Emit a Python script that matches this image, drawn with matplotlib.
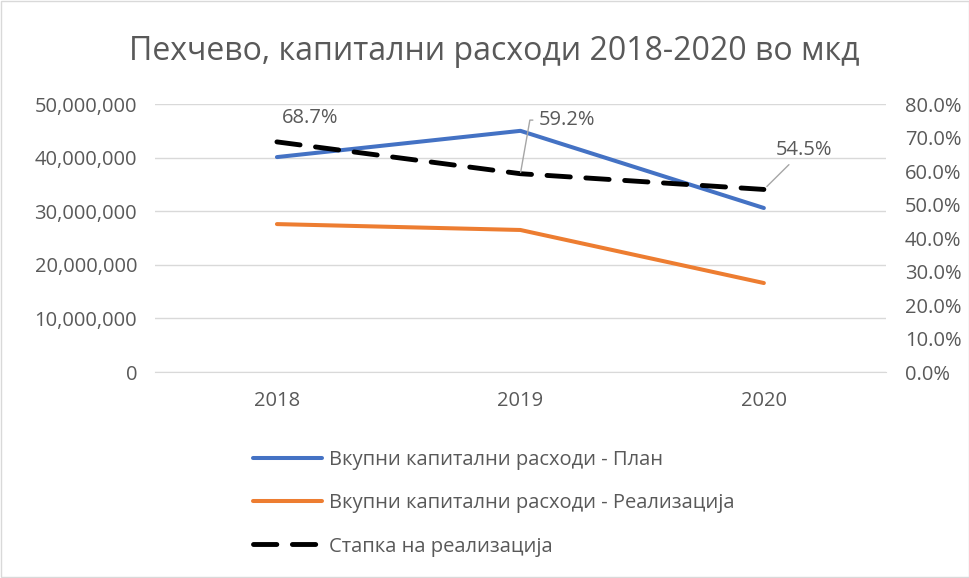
import matplotlib.pyplot as plt
from matplotlib.patches import Rectangle
from matplotlib.ticker import FuncFormatter

plt.rcParams['font.family'] = ['Open Sans', 'DejaVu Sans']

years = ['2018', '2019', '2020']
plan = [40100000, 45000000, 30600000]
realized = [27600000, 26500000, 16600000]
rate = [0.687, 0.592, 0.545]
rate_labels = ['68.7%', '59.2%', '54.5%']

title = 'Пехчево, капитални расходи 2018-2020 во мкд'
names = ['Вкупни капитални расходи - План',
         'Вкупни капитални расходи - Реализација',
         'Стапка на реализација']

txt = '#595959'
grid = '#d9d9d9'
fs = 14.5


def main():
    fig = plt.figure(figsize=(9.7, 5.78), dpi=100)
    ax = fig.add_axes([0.160, 0.3564, 0.753, 0.4636])
    ax2 = ax.twinx()

    x = list(range(len(years)))
    l1, = ax.plot(x, plan, color='#4472C4', lw=2.9, solid_capstyle='round')
    l2, = ax.plot(x, realized, color='#ED7D31', lw=2.9, solid_capstyle='round')
    l3, = ax2.plot(x, rate, color='black', lw=3.5, dashes=(4.8, 3.2),
                   dash_capstyle='round')

    ax.set_xlim(-0.5, 2.5)
    ax.set_ylim(0, 50000000)
    ax.set_yticks(range(0, 50000001, 10000000))
    ax.yaxis.set_major_formatter(FuncFormatter(lambda v, p: f'{int(v):,}'))
    ax2.set_ylim(0, 0.8)
    ax2.set_yticks([i / 10 for i in range(9)])
    ax2.yaxis.set_major_formatter(FuncFormatter(lambda v, p: f'{v * 100:.1f}%'))
    ax.set_xticks(x)
    ax.set_xticklabels(years)

    ax.grid(axis='y', color=grid, lw=1)
    ax.set_axisbelow(True)
    for a in (ax, ax2):
        for s in a.spines.values():
            s.set_visible(False)
        a.tick_params(length=0, labelsize=fs, colors=txt)
    ax.spines['bottom'].set_visible(True)
    ax.spines['bottom'].set_color(grid)
    ax.tick_params(axis='y', pad=13)
    ax.tick_params(axis='x', pad=14)
    ax2.tick_params(axis='y', pad=14)

    # data labels
    ax2.annotate(rate_labels[0], xy=(0, rate[0]), xytext=(0.135, 0.758),
                 ha='center', va='center', fontsize=fs, color=txt)
    ax2.annotate(rate_labels[1], xy=(1, rate[1]), xytext=(1.19, 0.752),
                 ha='center', va='center', fontsize=fs, color=txt,
                 arrowprops=dict(arrowstyle='-', color='#a6a6a6', lw=1,
                                 shrinkA=2, shrinkB=1,
                                 connectionstyle='angle,angleA=180,angleB=80,rad=0'))
    ax2.annotate(rate_labels[2], xy=(2, rate[2]), xytext=(2.164, 0.663),
                 ha='center', va='center', fontsize=fs, color=txt,
                 arrowprops=dict(arrowstyle='-', color='#a6a6a6', lw=1,
                                 shrinkA=2, shrinkB=3))

    fig.suptitle(title, x=0.51, y=0.94, fontsize=23, color=txt)

    fig.legend([l1, l2, l3], names, loc='upper left',
               bbox_to_anchor=(0.253, 0.235), frameon=False,
               fontsize=fs, labelcolor=txt, handlelength=3.4,
               handletextpad=0.35, labelspacing=1.15, borderaxespad=0)

    fig.patches.append(Rectangle((0.001, 0.001), 0.998, 0.998,
                                 transform=fig.transFigure, fill=False,
                                 edgecolor='#d9d9d9', lw=1))
    fig.savefig('out.png', dpi=100)


main()
